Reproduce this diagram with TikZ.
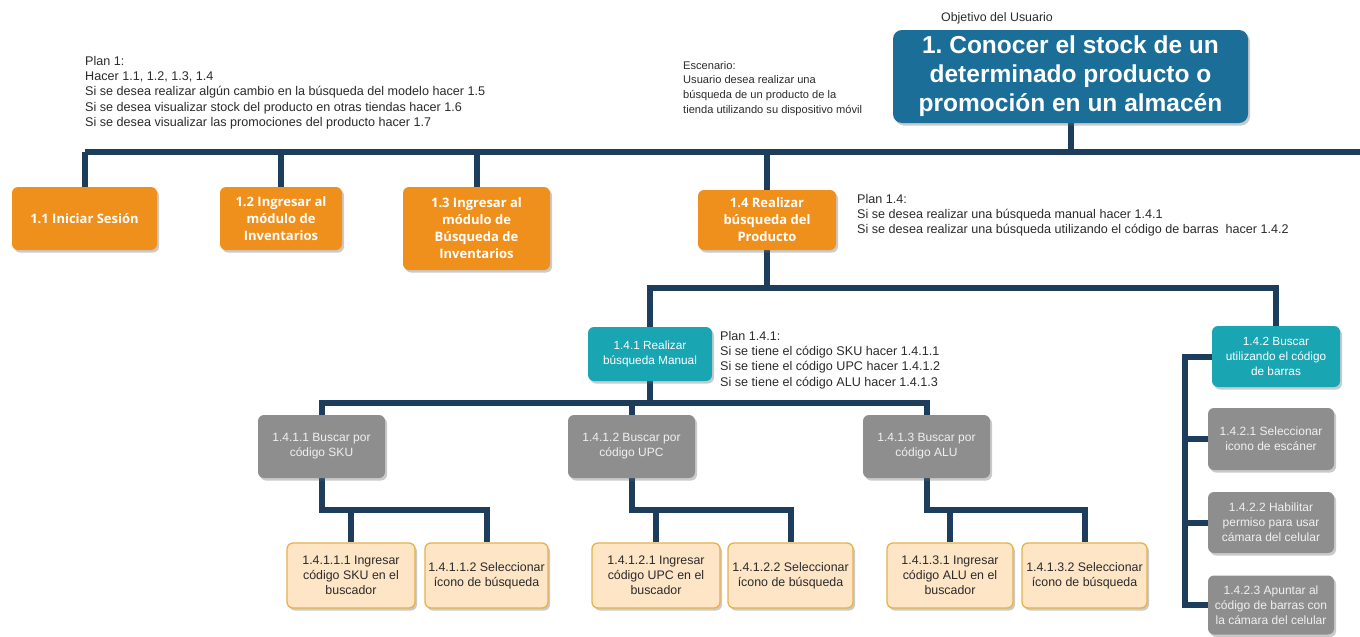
\documentclass[tikz,border=0pt]{standalone}
\usepackage{fontspec}
\setmainfont{Liberation Sans}
\newfontfamily\opensans{Open Sans}
\usetikzlibrary{shadows,backgrounds}
\definecolor{navy}{HTML}{1C3D5C}
\definecolor{mainblue}{HTML}{1A6E98}
\definecolor{orangebox}{HTML}{F0901C}
\definecolor{tealbox}{HTML}{19A5B2}
\definecolor{graybox}{HTML}{8E8E8E}
\definecolor{beigefill}{HTML}{FDE5C6}
\definecolor{beigeline}{HTML}{E6B24A}
\definecolor{txt}{HTML}{2A2A2A}
\tikzset{
  boxbase/.style={rounded corners=6pt, inner sep=1pt, align=center,
    drop shadow={shadow xshift=2pt, shadow yshift=-2.5pt, opacity=0.35, fill=black!60}},
  mainbox/.style={boxbase, rounded corners=9pt, fill=mainblue, text=white,
    font=\fontsize{24.5}{29}\selectfont\bfseries, minimum width=355pt, minimum height=93pt},
  orangebox/.style={boxbase, fill=orangebox, text=white,
    font=\opensans\fontsize{13}{17}\selectfont\bfseries, minimum height=63pt},
  tealbox/.style={boxbase, fill=tealbox, text=white,
    font=\fontsize{11.8}{14.8}\selectfont, minimum width=126pt},
  graybox/.style={boxbase, fill=graybox, text=white!94!black,
    font=\fontsize{12}{15}\selectfont, minimum width=127pt},
  beigebox/.style={boxbase, fill=beigefill, draw=beigeline, line width=1.3pt, text=txt,
    font=\fontsize{12.4}{15}\selectfont, minimum height=65pt},
  note/.style={anchor=north west, inner sep=0pt, align=left, text=txt,
    font=\fontsize{12.6}{15.3}\selectfont},
  link/.style={draw=navy, line width=6pt}
}
\begin{document}
\frenchspacing
\begin{tikzpicture}[x=1pt, y=-1pt]
\useasboundingbox (0,0) rectangle (1360,637);

% Main goal
\node[mainbox] (main) at (1070.5,76.5) {1. Conocer el stock de un\\determinado producto o\\promoción en un almacén};
\node[font=\fontsize{12.4}{14}\selectfont, text=txt] (obj) at (997,18) {Objetivo del Usuario};

% Notes
\node[note] (plan1) at (85,56) {Plan 1:\\Hacer 1.1, 1.2, 1.3, 1.4\\Si se desea realizar algún cambio en la búsqueda del modelo hacer 1.5\\Si se desea visualizar stock del producto en otras tiendas hacer 1.6\\Si se desea visualizar las promociones del producto hacer 1.7};
\node[note, font=\fontsize{11.1}{14.7}\selectfont] (esc) at (683,61) {Escenario:\\Usuario desea realizar una\\búsqueda de un producto de la\\tienda utilizando su dispositivo móvil};
\node[note] (plan14) at (857,194) {Plan 1.4:\\Si se desea realizar una búsqueda manual hacer 1.4.1\\Si se desea realizar una búsqueda utilizando el código de barras\ \ hacer 1.4.2};
\node[note] (plan141) at (720,331) {Plan 1.4.1:\\Si se tiene el código SKU hacer 1.4.1.1\\Si se tiene el código UPC hacer 1.4.1.2\\Si se tiene el código ALU hacer 1.4.1.3};

% Level 1
\node[orangebox, minimum width=145pt] (o11) at (84.5,218.5) {1.1 Iniciar Sesión};
\node[orangebox, minimum width=122pt] (o12) at (281,218.5) {1.2 Ingresar al\\módulo de\\Inventarios};
\node[orangebox, minimum width=147pt, minimum height=83pt] (o13) at (476.5,228.5) {1.3 Ingresar al\\módulo de\\Búsqueda de\\Inventarios};
\node[orangebox, minimum width=138pt, minimum height=60pt] (o14) at (767,220) {1.4 Realizar\\búsqueda del\\Producto};

% Level 2
\node[tealbox, minimum width=124pt, minimum height=54pt] (t141) at (650,354) {1.4.1 Realizar\\búsqueda Manual};
\node[tealbox, minimum width=128pt, minimum height=61pt] (t142) at (1276,356.5) {1.4.2 Buscar\\utilizando el código\\de barras};

% Level 3
\node[graybox, minimum height=63pt] (g1411) at (321.5,446.5) {1.4.1.1 Buscar por\\código SKU};
\node[graybox, minimum height=63pt] (g1412) at (631.5,446.5) {1.4.1.2 Buscar por\\código UPC};
\node[graybox, minimum height=63pt] (g1413) at (926.5,446.5) {1.4.1.3 Buscar por\\código ALU};
\node[graybox, minimum width=126pt, minimum height=62pt] (g1421) at (1271,439) {1.4.2.1 Seleccionar\\icono de escáner};
\node[graybox, minimum width=126pt, minimum height=61pt] (g1422) at (1271,522.5) {1.4.2.2 Habilitar\\permiso para usar\\cámara del celular};
\node[graybox, minimum width=126pt, minimum height=59pt] (g1423) at (1271,605) {1.4.2.3 Apuntar al\\código de barras con\\la cámara del celular};

% Level 4
\node[beigebox, minimum width=128pt] (b14111) at (351,575.5) {1.4.1.1.1 Ingresar\\código SKU en el\\buscador};
\node[beigebox, minimum width=123pt] (b14112) at (486.5,575.5) {1.4.1.1.2 Seleccionar\\ícono de búsqueda};
\node[beigebox, minimum width=128pt] (b14121) at (656,575.5) {1.4.1.2.1 Ingresar\\código UPC en el\\buscador};
\node[beigebox, minimum width=125pt] (b14122) at (790.5,575.5) {1.4.1.2.2 Seleccionar\\ícono de búsqueda};
\node[beigebox, minimum width=126pt] (b14131) at (950,575.5) {1.4.1.3.1 Ingresar\\código ALU en el\\buscador};
\node[beigebox, minimum width=125pt] (b14132) at (1084.5,575.5) {1.4.1.3.2 Seleccionar\\ícono de búsqueda};

% Connector helper coordinates
\coordinate (busL) at (84.5,152);
\coordinate (busR) at (1360,152);
\coordinate (bus14) at (767,288);
\coordinate (bus141) at (650,403);
\coordinate (y4) at (0,510);
\coordinate (col) at (1185,0);

\begin{scope}[on background layer]
  \draw[link] (busL) -- (busR);
  \draw[link] (main.south) -- (main.south |- busL);
  \draw[link] (o11.north) -- (o11.north |- busL);
  \draw[link] (o12.north) -- (o12.north |- busL);
  \draw[link] (o13.north) -- (o13.north |- busL);
  \draw[link] (o14.north) -- (o14.north |- busL);

  \draw[link] (o14.south) -- (bus14);
  \draw[link] (t141.north) |- (bus14) -| (t142.north);

  \draw[link] (t141.south) -- (bus141);
  \draw[link] (g1411.north) |- (bus141) -| (g1413.north);
  \draw[link] (g1412.north) -- (g1412.north |- bus141);

  \draw[link] (g1411.south) |- (b14112.north |- y4) -- (b14112.north);
  \draw[link] (b14111.north) -- (b14111.north |- y4);
  \draw[link] (g1412.south) |- (b14122.north |- y4) -- (b14122.north);
  \draw[link] (b14121.north) -- (b14121.north |- y4);
  \draw[link] (g1413.south) |- (b14132.north |- y4) -- (b14132.north);
  \draw[link] (b14131.north) -- (b14131.north |- y4);

  \draw[link] (t142.west) -| (col |- g1423.west) -- (g1423.west);
  \draw[link] (g1421.west) -- (g1421.west -| col);
  \draw[link] (g1422.west) -- (g1422.west -| col);
\end{scope}
\end{tikzpicture}
\end{document}
